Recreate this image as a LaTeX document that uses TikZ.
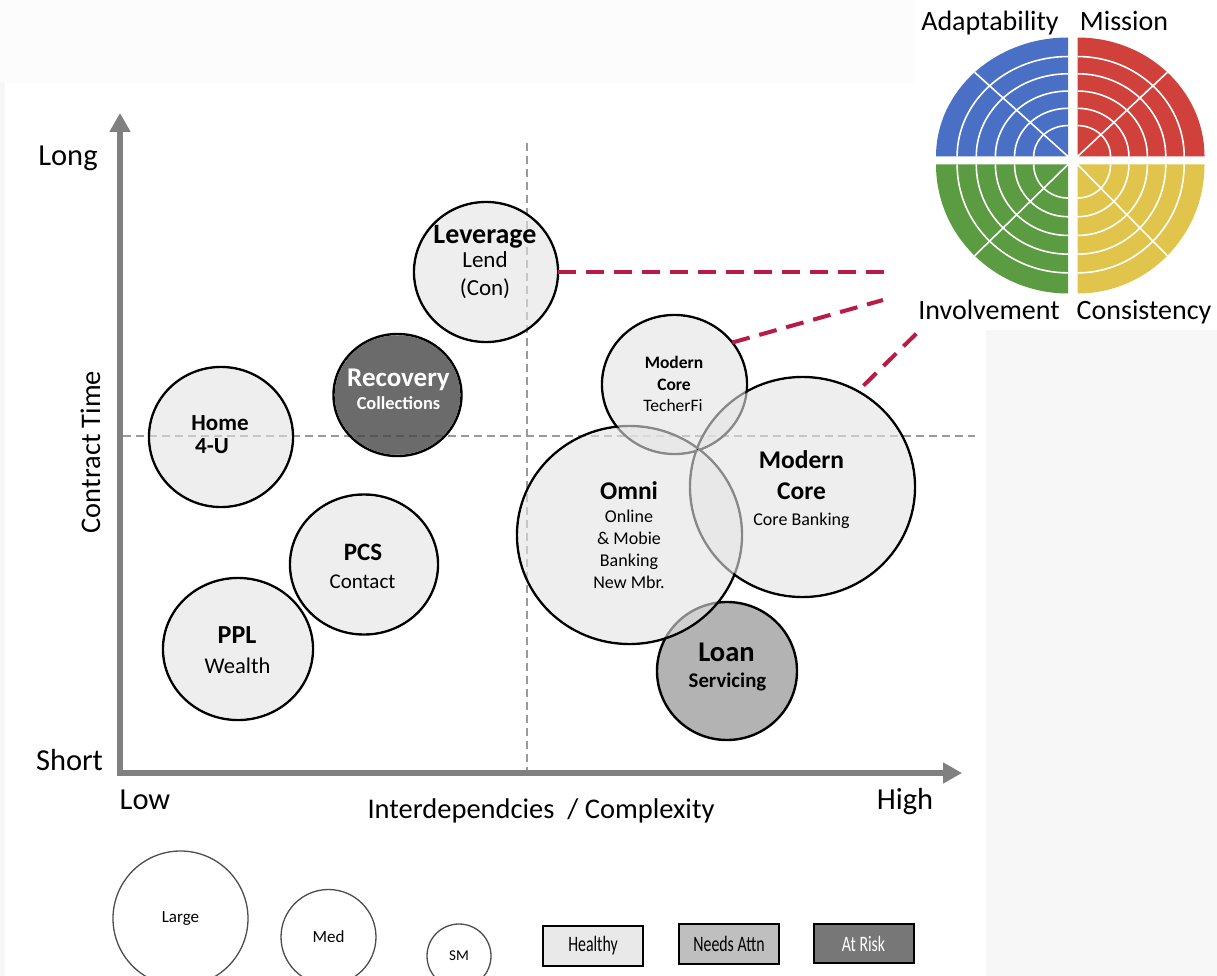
\documentclass[tikz,border=0pt]{standalone}
\usepackage{fontspec}
\setmainfont{Carlito}
\newfontfamily\condfont[FakeStretch=0.72]{Carlito}
\usetikzlibrary{arrows.meta,shapes.geometric}

\pgfdeclarelayer{grid}
\pgfdeclarelayer{tint}
\pgfdeclarelayer{labels}
\pgfsetlayers{grid,main,tint,labels}

\definecolor{bubfill}{HTML}{E4E4E4}
\definecolor{riskfill}{HTML}{464646}
\definecolor{attnfill}{HTML}{B3B3B3}
\definecolor{axisgrey}{HTML}{808080}
\definecolor{gridgrey}{HTML}{9A9A9A}
\definecolor{linkred}{HTML}{B81C44}
\definecolor{wblue}{HTML}{4A70C6}
\definecolor{wred}{HTML}{D0413C}
\definecolor{wgreen}{HTML}{5B9B42}
\definecolor{wyellow}{HTML}{E0C44C}
\definecolor{legline}{HTML}{4D4D4D}
\definecolor{healthyfill}{HTML}{E9E9E9}
\definecolor{attnbox}{HTML}{BFBFBF}
\definecolor{riskbox}{HTML}{777777}
\definecolor{sidegrey}{HTML}{F7F7F7}
\definecolor{topstrip}{HTML}{FCFCFC}

\newcommand\fs[1]{\fontsize{#1}{#1}\selectfont}

% outline of a bubble (named node) plus its see-through fill on the tint layer
\newcommand\bubble[5]{%
  \node[rim, minimum width=2*#3, minimum height=2*#4] (#1) at #2 {};
  \begin{pgfonlayer}{tint}
    \fill[#5] #2 ellipse [x radius=#3-1.3, y radius=#4-1.3];
  \end{pgfonlayer}}

% one line of text, placed by its baseline
\newcommand\lbl[5]{%
  \node[anchor=base, inner sep=0pt, outer sep=0pt] (#1) at (#2,#3) {#4#5};}

% one quarter of the culture wheel
\newcommand\quadrant[4]{%
  \begin{scope}[shift={#1}, x=#2, y=#3]
    \fill[#4] (0,0) -- (1,0) arc[start angle=0, end angle=90, radius=1] -- cycle;
    \foreach \r in {0.26,0.405,0.55,0.695,0.84}
      \draw[ring] (\r,0) arc[start angle=0, end angle=90, radius=\r];
    \draw[ring] (0,0) -- (45:1);
  \end{scope}}

\begin{document}
\begin{tikzpicture}[x=1pt, y=-1pt,
  rim/.style={ellipse, draw=black, line width=2.4pt, inner sep=0pt, outer sep=0pt},
  lighttint/.style={fill=bubfill, fill opacity=0.6},
  risktint/.style={fill=riskfill, fill opacity=0.8},
  gridline/.style={gridgrey, line width=1.5pt, dash pattern=on 8pt off 5pt},
  axis/.style={axisgrey, line width=6pt,
    {Triangle[width=20pt,length=19pt]}-{Triangle[width=20pt,length=19pt]}},
  link/.style={linkred, line width=4pt, dash pattern=on 18pt off 10pt},
  ring/.style={white, line width=1.6pt},
  legcirc/.style={circle, draw=legline, line width=1.3pt, inner sep=0pt},
  legbox/.style={rectangle, draw=black, line width=2pt, inner sep=0pt,
    minimum width=100pt, minimum height=40pt}]

\useasboundingbox (0,0) rectangle (1217,976);

% page background and quadrant guides
\begin{pgfonlayer}{grid}
  \fill[white] (0,0) rectangle (1217,976);
  \fill[topstrip] (0,0) rectangle (915,83);
  \fill[sidegrey] (0,83) rectangle (5,976);
  \fill[sidegrey] (986,330) rectangle (1217,976);
  \coordinate (vtop) at (527,143);
  \coordinate (vbot) at (527,770);
  \coordinate (hleft) at (123,436);
  \coordinate (hright) at (975,436);
  \draw[gridline] (vtop) -- (vbot);
  \draw[gridline] (hleft) -- (hright);
\end{pgfonlayer}

% axes
\coordinate (ytop) at (120,113);
\coordinate (origin) at (120,773);
\coordinate (xend) at (962,773);
\draw[axis] (ytop) -- (origin) -- (xend);

% bubbles
\node[rim, fill=attnfill, minimum width=140, minimum height=138] (loan) at (727,671) {};
\bubble{lev}{(486,272)}{72}{70}{lighttint}
\bubble{rec}{(397.5,395)}{64}{61}{risktint}
\bubble{home}{(221,437)}{72}{70}{lighttint}
\bubble{pcs}{(364,564.5)}{74}{70}{lighttint}
\bubble{ppl}{(238,649)}{75}{71}{lighttint}
\bubble{omni}{(629.5,535)}{112.5}{109}{lighttint}
\bubble{mc}{(802.5,487)}{112.5}{110}{lighttint}
\bubble{tf}{(674.5,384.5)}{72.5}{69.5}{lighttint}

\begin{pgfonlayer}{labels}
  % axis texts
  \lbl{long}{68}{166}{\fs{30.5}}{Long}
  \lbl{short}{69.5}{770}{\fs{30.5}}{Short}
  \lbl{low}{145}{809}{\fs{30.5}}{Low}
  \lbl{high}{905}{809}{\fs{30.5}}{High}
  \lbl{xtitle}{541}{818}{\fs{28.5}}{Interdependcies~ / Complexity}
  \node[rotate=90, anchor=base, inner sep=0pt] (ytitle) at (100,452) {\fs{28.4}Contract Time};

  % bubble texts
  \lbl{lev1}{485}{243.5}{\fs{28}\bfseries}{Leverage}
  \lbl{lev2}{485}{267}{\fs{23}}{Lend}
  \lbl{lev3}{485}{295}{\fs{23}}{(Con)}
  \lbl{rec1}{398.5}{386}{\fs{27}\bfseries\color{white}}{Recovery}
  \lbl{rec2}{398.5}{409}{\fs{18.4}\bfseries\color{white}}{Collections}
  \lbl{home1}{220}{430}{\fs{23}\bfseries}{Home}
  \lbl{home2}{212}{453}{\fs{23}\bfseries}{4-U}
  \lbl{pcs1}{363}{560}{\fs{25}\bfseries}{PCS}
  \lbl{pcs2}{362.5}{588}{\fs{21}}{Contact}
  \lbl{ppl1}{237}{643}{\fs{26}\bfseries}{PPL}
  \lbl{ppl2}{237.5}{673}{\fs{22.5}}{Wealth}
  \lbl{tf1}{674}{368.3}{\fs{17.5}\bfseries}{Modern}
  \lbl{tf2}{674}{390}{\fs{17.5}\bfseries}{Core}
  \lbl{tf3}{673}{411.7}{\fs{17.5}}{TecherFi}
  \lbl{omni1}{629}{499}{\fs{25.5}\bfseries}{Omni}
  \lbl{omni2}{629}{522.7}{\fs{18}}{Online}
  \lbl{omni3}{629}{544.3}{\fs{18}}{\& Mobie}
  \lbl{omni4}{629}{566.7}{\fs{18}}{Banking}
  \lbl{omni5}{629}{588.3}{\fs{18}}{New Mbr.}
  \lbl{mc1}{801.5}{468.5}{\fs{25.5}\bfseries}{Modern}
  \lbl{mc2}{801.5}{499.5}{\fs{25.5}\bfseries}{Core}
  \lbl{mc3}{801.5}{525.7}{\fs{18}}{Core Banking}
  \lbl{loan1}{726.5}{661}{\fs{28.5}\bfseries}{Loan}
  \lbl{loan2}{727.5}{687.5}{\fs{20.8}\bfseries}{Servicing}

  % links to the culture wheel
  \coordinate (w1) at (885,272);
  \coordinate (w2) at (883,300);
  \coordinate (w3) at (917,333);
  \draw[link] (lev.east) -- (w1);
  \draw[link] (tf.36) -- (w2);
  \draw[link, shorten <=8pt] (mc.60) -- (w3);

  % culture wheel
  \quadrant{(1068,156.5)}{-132pt}{119pt}{wblue}
  \quadrant{(1077.5,156.5)}{127pt}{119pt}{wred}
  \quadrant{(1068,164.5)}{-132pt}{-129pt}{wgreen}
  \quadrant{(1077.5,164.5)}{127pt}{-129pt}{wyellow}
  \lbl{adapt}{990}{31}{\fs{28}}{Adaptability}
  \lbl{mission}{1124}{31}{\fs{28}}{Mission}
  \lbl{involve}{989}{319}{\fs{28}}{Involvement}
  \lbl{consist}{1144}{319}{\fs{28}}{Consistency}

  % size legend
  \node[legcirc, minimum size=135] (large) at (180.5,918.5) {\fs{17}Large};
  \node[legcirc, minimum size=95] (med) at (328.5,937) {\fs{17}Med};
  \node[legcirc, minimum size=64] (sm) at (459,956) {\fs{15}SM};

  % status legend
  \node[legbox, fill=healthyfill] (healthy) at (593,946) {\condfont\fs{22}Healthy};
  \node[legbox, fill=attnbox] (attn) at (729,944) {\condfont\fs{22}Needs Attn};
  \node[legbox, fill=riskbox, minimum height=39] (risk) at (863.5,943.5) {\condfont\fs{22}\color{white}At Risk};
\end{pgfonlayer}
\end{tikzpicture}
\end{document}
